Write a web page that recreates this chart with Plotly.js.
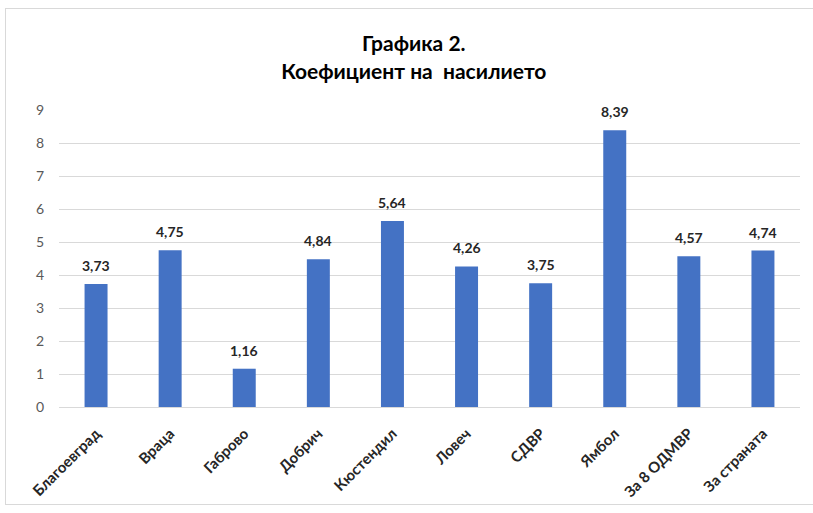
<!DOCTYPE html>
<html>
<head>
<meta charset="utf-8">
<script src="https://cdn.plot.ly/plotly-3.0.1.min.js"></script>
<style>
  html, body { margin: 0; padding: 0; background: #fff; }
  #frame { position: absolute; left: 5px; top: 8px; width: 820px; height: 497px; border: 1px solid #d9d9d9; box-sizing: border-box; pointer-events: none; }
  #chart { width: 813px; height: 513px; }
</style>
</head>
<body>
<div id="chart"></div>
<div id="frame"></div>
<script>
const categories = ["Благоевград", "Враца", "Габрово", "Добрич", "Кюстендил", "Ловеч", "СДВР", "Ямбол", "За 8 ОДМВР", "За страната"];
const values = [3.73, 4.75, 1.16, 4.48, 5.64, 4.26, 3.75, 8.39, 4.57, 4.74];
const labels = ["3,73", "4,75", "1,16", "4,84", "5,64", "4,26", "3,75", "8,39", "4,57", "4,74"];
const yTicks = [0, 1, 2, 3, 4, 5, 6, 7, 8, 9];

const FONT = "Lato, 'Open Sans', sans-serif";

const trace = {
  type: "bar",
  x: categories,
  y: values,
  marker: { color: "#4472C4" },
  hoverinfo: "x+y"
};

const annotations = categories.map((c, i) => ({
  x: c, y: values[i], xref: "x", yref: "y",
  text: labels[i], showarrow: false,
  yanchor: "bottom", yshift: 8,
  font: { family: FONT, size: 14, color: "#262626", weight: "bold" }
}));

const layout = {
  width: 813, height: 513,
  margin: { l: 59, r: 13, t: 110, b: 106 },
  paper_bgcolor: "#ffffff", plot_bgcolor: "#ffffff",
  bargap: 0.69,
  showlegend: false,
  title: {
    text: "<b>Графика 2.</b><br><b>Коефициент на  насилието</b>",
    x: 0.509, xanchor: "center", y: 0.90, yanchor: "top",
    font: { family: FONT, size: 21, color: "#000000" }
  },
  xaxis: {
    type: "category",
    tickangle: -45,
    tickfont: { family: FONT, size: 15, color: "#262626", weight: "bold" },
    showgrid: false, showline: false, ticks: "",
    ticklabelstandoff: 14
  },
  yaxis: {
    range: [0, 9],
    tickvals: yTicks,
    ticktext: yTicks.map(String),
    tickfont: { family: FONT, size: 14, color: "#595959" },
    gridcolor: "#d9d9d9", gridwidth: 1,
    zeroline: true, zerolinecolor: "#d9d9d9", zerolinewidth: 1,
    showline: false, ticks: "", ticklabelstandoff: 14
  },
  annotations: annotations
};

Plotly.newPlot("chart", [trace], layout, { displayModeBar: false, staticPlot: true });
</script>
</body>
</html>
